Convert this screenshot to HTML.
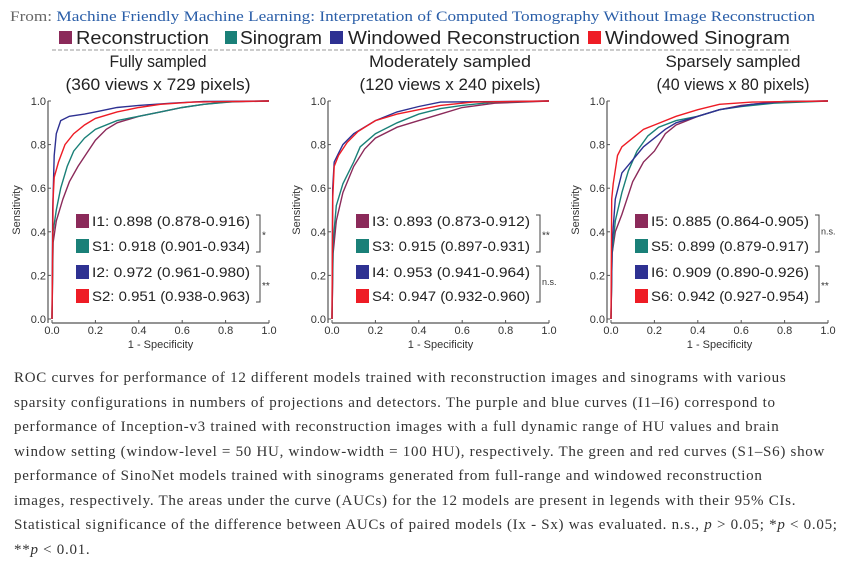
<!DOCTYPE html>
<html><head><meta charset="utf-8"><style>
html,body{margin:0;padding:0;background:#fff;width:851px;height:580px;overflow:hidden}
svg{position:absolute;left:0;top:0}
.cap{position:absolute;left:14px;top:366px;font-family:"Liberation Serif",serif;font-size:15px;color:#333;line-height:24.5px;letter-spacing:0.72px}
.cap div{white-space:nowrap}
</style></head><body>
<svg id="chart" width="851" height="360" font-family="Liberation Sans, sans-serif">
<text x="10" y="21" font-family="Liberation Serif, serif" font-size="15" fill="#666" textLength="805" lengthAdjust="spacingAndGlyphs">From: <tspan fill="#2a5ea8">Machine Friendly Machine Learning: Interpretation of Computed Tomography Without Image Reconstruction</tspan></text>
<g font-size="18" fill="#222">
<rect x="59" y="31" width="13" height="13" fill="#8b2a5a"/><text x="76" y="44" textLength="133" lengthAdjust="spacingAndGlyphs">Reconstruction</text>
<rect x="225" y="31" width="12" height="13" fill="#1a8078"/><text x="240" y="44" textLength="82" lengthAdjust="spacingAndGlyphs">Sinogram</text>
<rect x="330" y="31" width="13" height="13" fill="#2e3192"/><text x="348" y="44" textLength="232" lengthAdjust="spacingAndGlyphs">Windowed Reconstruction</text>
<rect x="588" y="31" width="13" height="13" fill="#ee1c25"/><text x="605" y="44" textLength="185" lengthAdjust="spacingAndGlyphs">Windowed Sinogram</text>
</g>
<line x1="52" y1="50" x2="791" y2="50" stroke="#999" stroke-dasharray="4,2"/>
<g id="panels"></g>
</svg>
<div class="cap">
<div>ROC curves for performance of 12 different models trained with reconstruction images and sinograms with various</div>
<div>sparsity configurations in numbers of projections and detectors. The purple and blue curves (I1–I6) correspond to</div>
<div>performance of Inception-v3 trained with reconstruction images with a full dynamic range of HU values and brain</div>
<div>window setting (window-level = 50 HU, window-width = 100 HU), respectively. The green and red curves (S1–S6) show</div>
<div>performance of SinoNet models trained with sinograms generated from full-range and windowed reconstruction</div>
<div>images, respectively. The areas under the curve (AUCs) for the 12 models are present in legends with their 95% CIs.</div>
<div>Statistical significance of the difference between AUCs of paired models (Ix - Sx) was evaluated. n.s., <i>p</i> &gt; 0.05; *<i>p</i> &lt; 0.05;</div>
<div>**<i>p</i> &lt; 0.01.</div>
</div>
<script>
const panelTitles = ["Fully sampled","Moderately sampled","Sparsely sampled"];
const panelSubtitles = ["(360 views x 729 pixels)","(120 views x 240 pixels)","(40 views x 80 pixels)"];
const xTicks = [0,0.2,0.4,0.6,0.8,1.0];
const yTicks = [0,0.2,0.4,0.6,0.8,1.0];
const seriesColors = ["#8b2a5a","#1a8078","#2e3192","#ee1c25"];
const legendLabels = [
 ["I1: 0.898 (0.878-0.916)","S1: 0.918 (0.901-0.934)","I2: 0.972 (0.961-0.980)","S2: 0.951 (0.938-0.963)"],
 ["I3: 0.893 (0.873-0.912)","S3: 0.915 (0.897-0.931)","I4: 0.953 (0.941-0.964)","S4: 0.947 (0.932-0.960)"],
 ["I5: 0.885 (0.864-0.905)","S5: 0.899 (0.879-0.917)","I6: 0.909 (0.890-0.926)","S6: 0.942 (0.927-0.954)"]];
const sigLabels = [["*","**"],["**","n.s."],["n.s.","**"]];
const roc1 = [
 [[0,0],[0.005,0.35],[0.02,0.45],[0.05,0.55],[0.08,0.63],[0.12,0.7],[0.16,0.76],[0.2,0.82],[0.25,0.87],[0.3,0.9],[0.4,0.93],[0.5,0.95],[0.6,0.97],[0.7,0.985],[0.8,0.995],[1,1]],
 [[0,0],[0.005,0.4],[0.02,0.5],[0.04,0.6],[0.07,0.7],[0.1,0.77],[0.15,0.83],[0.2,0.87],[0.3,0.91],[0.4,0.93],[0.5,0.95],[0.6,0.97],[0.7,0.985],[0.85,0.998],[1,1]],
 [[0,0],[0.003,0.5],[0.01,0.75],[0.02,0.85],[0.04,0.91],[0.08,0.93],[0.15,0.94],[0.2,0.95],[0.3,0.97],[0.4,0.98],[0.55,0.99],[0.7,0.998],[1,1]],
 [[0,0],[0.005,0.55],[0.01,0.65],[0.03,0.72],[0.06,0.8],[0.1,0.85],[0.15,0.89],[0.2,0.92],[0.3,0.95],[0.4,0.97],[0.5,0.985],[0.65,0.995],[1,1]]];
const roc2 = [
 [[0,0],[0.005,0.3],[0.02,0.45],[0.05,0.58],[0.1,0.7],[0.15,0.78],[0.2,0.83],[0.3,0.88],[0.4,0.91],[0.5,0.94],[0.6,0.97],[0.75,0.99],[1,1]],
 [[0,0],[0.005,0.35],[0.02,0.52],[0.05,0.62],[0.1,0.72],[0.13,0.79],[0.2,0.85],[0.3,0.9],[0.4,0.94],[0.5,0.965],[0.6,0.98],[0.75,0.995],[1,1]],
 [[0,0],[0.003,0.6],[0.01,0.72],[0.03,0.76],[0.05,0.8],[0.1,0.85],[0.2,0.91],[0.3,0.95],[0.4,0.975],[0.5,0.995],[1,1]],
 [[0,0],[0.003,0.55],[0.01,0.7],[0.03,0.75],[0.07,0.81],[0.12,0.86],[0.2,0.91],[0.3,0.94],[0.4,0.96],[0.5,0.98],[0.65,0.995],[1,1]]];
const roc3 = [
 [[0,0],[0.005,0.3],[0.02,0.4],[0.05,0.48],[0.08,0.57],[0.1,0.63],[0.15,0.72],[0.2,0.77],[0.25,0.85],[0.3,0.89],[0.4,0.93],[0.5,0.96],[0.6,0.98],[0.75,0.995],[1,1]],
 [[0,0],[0.005,0.3],[0.02,0.45],[0.05,0.58],[0.08,0.68],[0.12,0.77],[0.17,0.84],[0.22,0.88],[0.3,0.91],[0.4,0.93],[0.5,0.96],[0.6,0.975],[0.75,0.99],[1,1]],
 [[0,0],[0.005,0.35],[0.02,0.55],[0.05,0.67],[0.1,0.73],[0.15,0.79],[0.2,0.83],[0.25,0.87],[0.3,0.9],[0.4,0.93],[0.5,0.96],[0.65,0.985],[0.8,0.998],[1,1]],
 [[0,0],[0.003,0.55],[0.01,0.62],[0.03,0.75],[0.05,0.79],[0.1,0.83],[0.15,0.87],[0.2,0.89],[0.3,0.93],[0.4,0.96],[0.5,0.985],[0.65,0.995],[1,1]]];
const rocData = [roc1, roc2, roc3];

const NS="http://www.w3.org/2000/svg";
const root=document.getElementById('panels');
const originsX=[52,332,611], plotW=217, y0=319, plotH=218;
const titleCX=[158,450,733], titleLen=[97,162,135], subLen=[185,181,153];
function mk(tag,attrs,parent,text){const e=document.createElementNS(NS,tag);for(const k in attrs)e.setAttribute(k,attrs[k]);if(text!==undefined)e.textContent=text;parent.appendChild(e);return e;}
rocData.forEach((series,p)=>{
  const ox=originsX[p];
  const sx=v=>ox+v*plotW, sy=v=>y0-v*plotH;
  const g=mk('g',{},root);
  
  
  const cx=titleCX[p];
  const t1=mk('text',{x:cx,y:67,'text-anchor':'middle','font-size':17,fill:'#222',textLength:titleLen[p],lengthAdjust:'spacingAndGlyphs'},g,panelTitles[p]);
  
  
  const t2=mk('text',{x:cx,y:90,'text-anchor':'middle','font-size':17,fill:'#222',textLength:subLen[p],lengthAdjust:'spacingAndGlyphs'},g,panelSubtitles[p]);
  
  
  const ya=mk('line',{x1:ox-4,y1:sy(1),x2:ox-4,y2:y0+4,stroke:'#555','stroke-width':1.2},g);
  
  
  const xa=mk('line',{x1:ox,y1:y0+4,x2:sx(1),y2:y0+4,stroke:'#555','stroke-width':1.2},g);
  
  
  xTicks.forEach(v=>{
    mk('line',{x1:sx(v),y1:y0+4,x2:sx(v),y2:y0+1,stroke:'#555'},g);
    const t=mk('text',{x:sx(v),y:y0+15,'text-anchor':'middle','font-size':11,fill:'#333'},g,v.toFixed(1));
    
    
  });
  yTicks.forEach(v=>{
    mk('line',{x1:ox-4,y1:sy(v),x2:ox-1,y2:sy(v),stroke:'#555'},g);
    const t=mk('text',{x:ox-6,y:sy(v)+4,'text-anchor':'end','font-size':11,fill:'#333'},g,v.toFixed(1));
    
    
  });
  const xl=mk('text',{x:ox+plotW/2,y:y0+29,'text-anchor':'middle','font-size':11,fill:'#333'},g,'1 - Specificity');
  
  
  const yx=ox-32, yy=y0-plotH/2;
  const yl=mk('text',{x:yx,y:yy,'text-anchor':'middle','font-size':11,fill:'#333',transform:`rotate(-90 ${yx} ${yy})`},g,'Sensitivity');
  
  
  series.forEach((pts,i)=>{
    const d=pts.map((q,j)=>(j?'L':'M')+sx(q[0]).toFixed(1)+','+sy(q[1]).toFixed(1)).join('');
    const path=mk('path',{d:d,fill:'none',stroke:seriesColors[i],'stroke-width':1.4},g);
    
    
  });
  const lx=ox+24, rows=[221,246,272,296];
  legendLabels[p].forEach((lab,i)=>{
    const r=mk('rect',{x:lx,y:rows[i]-7,width:13,height:14,fill:seriesColors[i]},g);
    
    
    const t=mk('text',{x:lx+16,y:rows[i]+5,'font-size':14,fill:'#222',textLength:158,lengthAdjust:'spacingAndGlyphs'},g,lab);
    
    
  });
  const bx=lx+184;
  [[0,1],[2,3]].forEach((pr,k)=>{
    const ya1=rows[pr[0]]-6, ya2=rows[pr[1]]+6;
    const b=mk('path',{d:`M${bx-4},${ya1}H${bx}V${ya2}H${bx-4}`,fill:'none',stroke:'#444','stroke-width':1},g);
    
    
    const s=sigLabels[p][k];
    const st=mk('text',{x:bx+2,y:(ya1+ya2)/2+(s==='n.s.'?1:5),'font-size':s==='n.s.'?9:10,fill:'#333'},g,s);
    
    
  });
});
</script>
</body></html>
